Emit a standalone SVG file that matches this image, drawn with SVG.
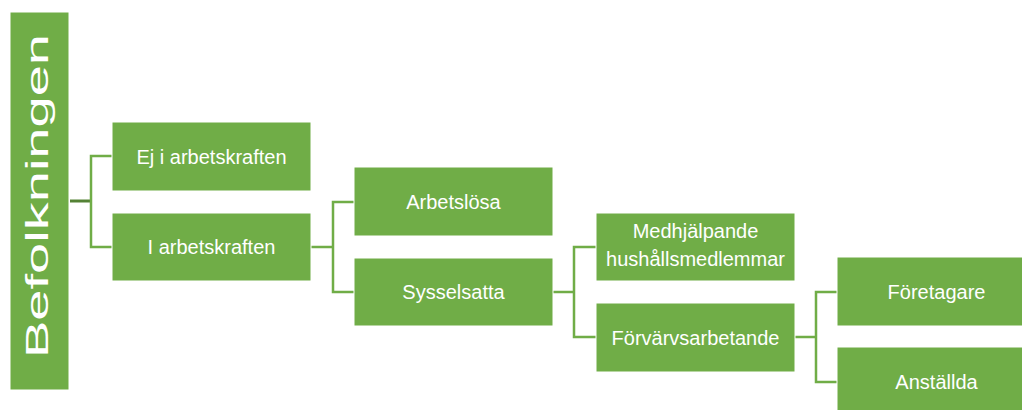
<svg xmlns="http://www.w3.org/2000/svg" width="1022" height="410" viewBox="0 0 1022 410">
<style>
.box{fill:#70AD47;stroke:#ffffff;stroke-width:1}
.t{font-family:"Liberation Sans",Arial,sans-serif;font-size:20px;fill:#ffffff;text-anchor:middle}
.c{fill:none;stroke:#70AD47;stroke-width:2.5}
.cd{fill:none;stroke:#548235;stroke-width:3}
</style>
<rect width="1022" height="410" fill="#ffffff"/>
<g id="connectors">
<path class="cd" d="M70,201 H91"/>
<path class="c" d="M112,156 H91 V247 H112"/>
<path class="c" d="M311,247 H333"/>
<path class="c" d="M354,202 H333 V292 H354"/>
<path class="c" d="M553,292 H574"/>
<path class="c" d="M596,247 H574 V337 H596"/>
<path class="c" d="M795,337 H816"/>
<path class="c" d="M837,292 H816 V382 H837"/>
</g>
<g id="befolkningen">
<rect class="box" x="10" y="12" width="59" height="378"/>
<text transform="translate(48,196) rotate(-90)" font-family="Liberation Sans,Arial,sans-serif" font-size="31" fill="#ffffff" text-anchor="middle" textLength="324" lengthAdjust="spacingAndGlyphs">Befolkningen</text>
</g>
<g id="ej-i-arbetskraften">
<rect class="box" x="112" y="122" width="199" height="69"/>
<text class="t" x="211.5" y="163.5">Ej i arbetskraften</text>
</g>
<g id="i-arbetskraften">
<rect class="box" x="112" y="213" width="199" height="68"/>
<text class="t" x="211.5" y="254">I arbetskraften</text>
</g>
<g id="arbetslosa">
<rect class="box" x="354" y="167" width="199" height="69"/>
<text class="t" x="453.5" y="208.5">Arbetslösa</text>
</g>
<g id="sysselsatta">
<rect class="box" x="354" y="258" width="199" height="68"/>
<text class="t" x="453.5" y="299">Sysselsatta</text>
</g>
<g id="medhjalpande">
<rect class="box" x="596" y="213" width="199" height="68"/>
<text class="t" x="695.5" y="238">Medhjälpande</text>
<text class="t" x="695.5" y="266">hushållsmedlemmar</text>
</g>
<g id="forvarvsarbetande">
<rect class="box" x="596" y="303" width="199" height="69"/>
<text class="t" x="695.5" y="344.5">Förvärvsarbetande</text>
</g>
<g id="foretagare">
<rect class="box" x="837" y="257" width="199" height="69"/>
<text class="t" x="936.5" y="298.5">Företagare</text>
</g>
<g id="anstallda">
<rect class="box" x="837" y="347" width="199" height="69"/>
<text class="t" x="936.5" y="389">Anställda</text>
</g>
</svg>
